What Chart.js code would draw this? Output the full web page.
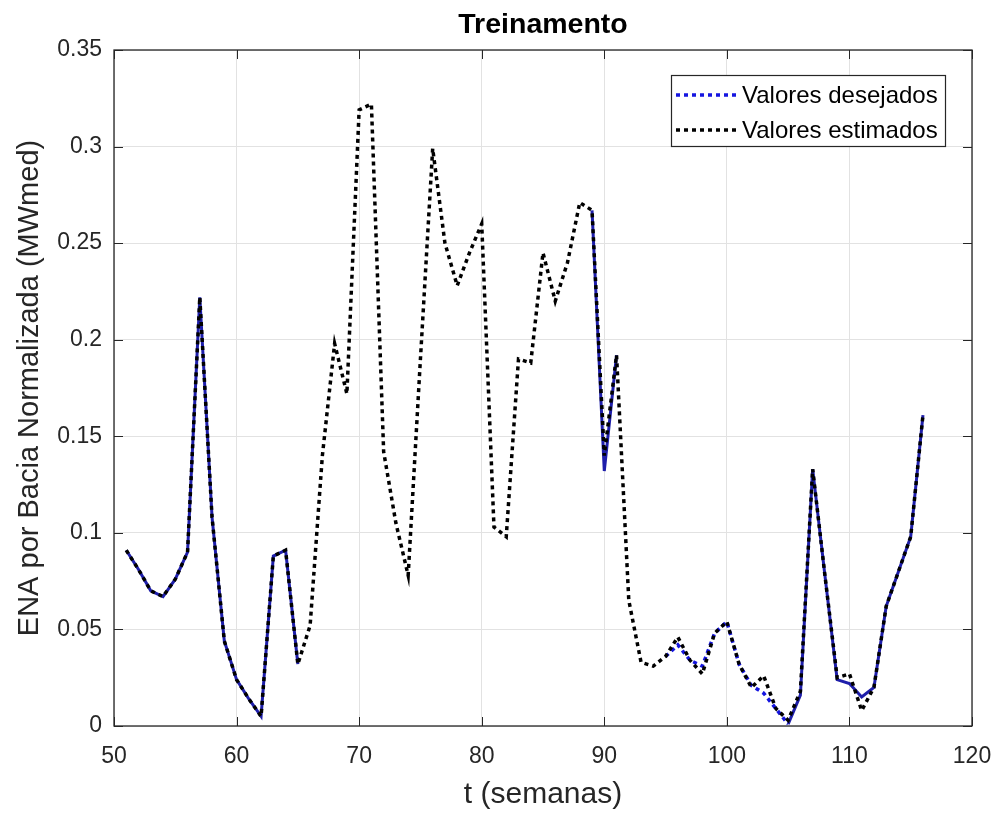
<!DOCTYPE html>
<html><head><meta charset="utf-8">
<script src="https://cdn.jsdelivr.net/npm/chart.js@4.4.1/dist/chart.umd.min.js"></script>
<style>html,body{margin:0;padding:0;background:#fff;}#wrap{width:1000px;height:817px;position:relative;}</style>
</head><body><div id="wrap"><canvas id="c"></canvas></div>
<script>
const weeks = [51,52,53,54,55,56,57,58,59,60,61,62,63,64,65,66,67,68,69,70,71,72,73,74,75,76,77,78,79,80,81,82,83,84,85,86,87,88,89,90,91,92,93,94,95,96,97,98,99,100,101,102,103,104,105,106,107,108,109,110,111,112,113,114,115,116];
const desired = [0.091,0.081,0.070,0.067,0.076,0.090,0.222,0.108,0.044,0.024,0.014,0.005,0.088,0.091,0.032,0.052,0.140,0.198,0.172,0.319,0.322,0.142,0.105,0.078,0.190,0.299,0.250,0.228,0.245,0.260,0.103,0.098,0.190,0.188,0.245,0.220,0.240,0.271,0.267,0.132,0.192,0.065,0.033,0.031,0.036,0.042,0.034,0.031,0.048,0.054,0.032,0.021,0.017,0.009,0.001,0.016,0.133,0.078,0.024,0.022,0.015,0.020,0.062,0.080,0.098,0.161];
const estimated = [0.091,0.081,0.070,0.067,0.076,0.090,0.222,0.108,0.044,0.024,0.014,0.005,0.088,0.091,0.032,0.052,0.140,0.198,0.172,0.319,0.322,0.142,0.105,0.078,0.190,0.299,0.250,0.228,0.245,0.260,0.103,0.098,0.190,0.188,0.245,0.220,0.240,0.271,0.267,0.140,0.192,0.065,0.033,0.031,0.036,0.046,0.034,0.027,0.048,0.054,0.032,0.020,0.026,0.009,0.003,0.018,0.133,0.078,0.025,0.027,0.008,0.020,0.062,0.080,0.098,0.161];
const xTicks = [50,60,70,80,90,100,110,120];
const yTicks = [0,0.05,0.1,0.15,0.2,0.25,0.3,0.35];
const seriesLabels = ['Valores desejados','Valores estimados'];
const chartTitle = 'Treinamento';
const xTitle = 't (semanas)';
const yTitle = 'ENA por Bacia Normalizada (MWmed)';

const FONT = '"Liberation Sans", Arial, Helvetica, sans-serif';
const BLUE = '#1515e0';
const NAVY = 'rgb(30,30,170)';
const DOT = [4,4];

function blueSeg(ctx){
  const x0 = weeks[ctx.p0DataIndex];
  if (x0 < 65 || (x0 >= 88.5 && x0 < 91) || x0 >= 105) return 'navy';
  if (x0 >= 95 && x0 < 105) return 'dots';
  return 'hide';
}

const decor = {
  id: 'decor',
  afterDraw(chart){
    const {ctx, chartArea: a, scales: {x, y}} = chart;
    ctx.save();
    ctx.strokeStyle = '#262626'; ctx.lineWidth = 1.3;
    ctx.strokeRect(a.left, a.top, a.right - a.left, a.bottom - a.top);
    const L = 9;
    ctx.beginPath();
    xTicks.forEach(v => { const px = Math.round(x.getPixelForValue(v)) + 0.5;
      ctx.moveTo(px, a.bottom); ctx.lineTo(px, a.bottom - L);
      ctx.moveTo(px, a.top); ctx.lineTo(px, a.top + L); });
    yTicks.forEach(v => { const py = Math.round(y.getPixelForValue(v)) + 0.5;
      ctx.moveTo(a.left, py); ctx.lineTo(a.left + L, py);
      ctx.moveTo(a.right, py); ctx.lineTo(a.right - L, py); });
    ctx.lineWidth = 1; ctx.stroke();
    // title
    ctx.font = 'bold 28.5px ' + FONT; ctx.fillStyle = '#000';
    ctx.textAlign = 'center'; ctx.textBaseline = 'alphabetic';
    ctx.fillText(chartTitle, (a.left + a.right) / 2, 33);
    // legend
    const bx = a.right - 301, by = a.top + 25, bw = 274, bh = 71;
    ctx.fillStyle = '#fff'; ctx.fillRect(bx, by, bw, bh);
    ctx.strokeStyle = '#262626'; ctx.lineWidth = 1.2; ctx.strokeRect(bx + 0.5, by + 0.5, bw, bh);
    const ds = chart.data.datasets;
    const rows = [by + 20, by + 55];
    ctx.font = '24px ' + FONT; ctx.textAlign = 'left'; ctx.textBaseline = 'middle';
    for (let i = 0; i < 2; i++) {
      const d = ds[i];
      ctx.beginPath(); ctx.setLineDash(DOT); ctx.lineWidth = 3.5;
      ctx.strokeStyle = d.borderColor;
      ctx.moveTo(bx + 5, rows[i]); ctx.lineTo(bx + 66, rows[i]); ctx.stroke();
      ctx.setLineDash([]);
      ctx.fillStyle = '#000';
      ctx.fillText(d.label, bx + 71, rows[i] + 1);
    }
    ctx.restore();
  }
};

new Chart(document.getElementById('c'), {
  type: 'line',
  data: {
    labels: weeks,
    datasets: [
      { label: seriesLabels[0], data: weeks.map((w, i) => ({x: w, y: desired[i]})),
        borderColor: BLUE, borderWidth: 3.5, borderDash: DOT, pointRadius: 0, tension: 0, order: 2,
        segment: {
          borderColor: c => { const s = blueSeg(c); return s === 'navy' ? NAVY : (s === 'hide' ? 'rgba(0,0,0,0)' : BLUE); },
          borderDash: c => blueSeg(c) === 'navy' ? [] : DOT,
          borderWidth: c => blueSeg(c) === 'navy' ? 3 : 3.5
        } },
      { label: seriesLabels[1], data: weeks.map((w, i) => ({x: w, y: estimated[i]})),
        borderColor: '#000', borderWidth: 3.5, borderDash: DOT, pointRadius: 0, tension: 0, order: 1 }
    ]
  },
  options: {
    responsive: true, maintainAspectRatio: false, animation: false,
    layout: { padding: { top: 50, right: 28, left: 0, bottom: 0 } },
    plugins: { legend: { display: false }, tooltip: { enabled: false }, title: { display: false } },
    scales: {
      x: { type: 'linear', min: 50, max: 120,
        afterBuildTicks: s => { s.ticks = xTicks.map(v => ({value: v})); },
        afterFit: s => { s.height = 91; s.paddingLeft = 0; s.paddingRight = 0; },
        grid: { color: '#e2e2e2', lineWidth: 1, drawTicks: false },
        border: { display: false },
        ticks: { padding: 17, color: '#262626', font: { family: FONT, size: 23 }, callback: v => String(v), maxRotation: 0 },
        title: { display: true, text: xTitle, color: '#262626', font: { family: FONT, size: 30 }, padding: { top: 0, bottom: 4 } } },
      y: { type: 'linear', min: 0, max: 0.35,
        afterBuildTicks: s => { s.ticks = yTicks.map(v => ({value: v})); },
        afterFit: s => { s.width = 114; s.paddingTop = 0; s.paddingBottom = 0; },
        grid: { color: '#e2e2e2', lineWidth: 1, drawTicks: false },
        border: { display: false },
        ticks: { padding: 12, color: '#262626', font: { family: FONT, size: 23 }, callback: v => String(+(+v).toFixed(2)) },
        title: { display: true, text: yTitle, color: '#262626', font: { family: FONT, size: 29 }, padding: { top: 13, bottom: 0 } } }
    }
  },
  plugins: [decor]
});
</script></body></html>
